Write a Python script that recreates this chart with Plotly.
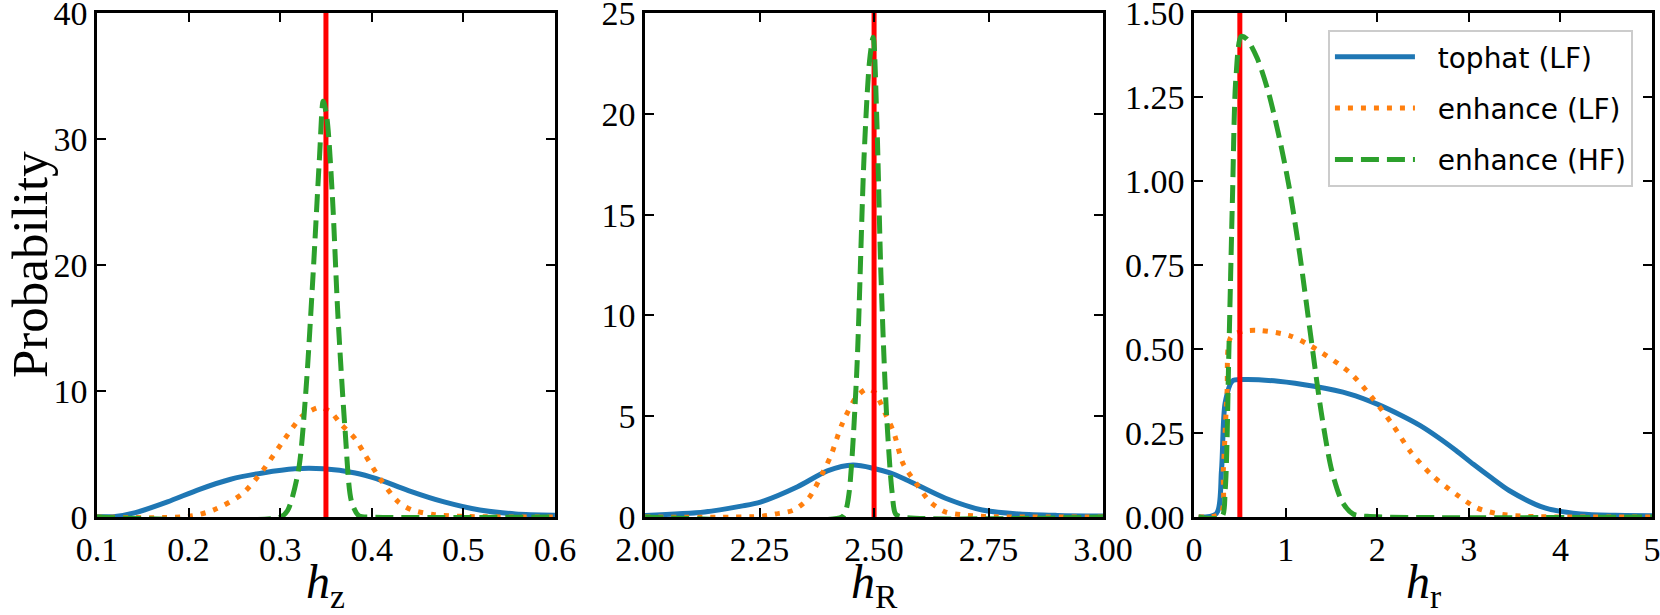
import plotly.graph_objects as go

# ---- h_z panel ----
hz_tophat_x = [0.10, 0.12, 0.142, 0.177, 0.212, 0.246, 0.281, 0.316, 0.347, 0.382, 0.405, 0.44, 0.479, 0.518, 0.557, 0.60]
hz_tophat_y = [0.02, 0.05, 0.35, 1.2, 2.2, 3.0, 3.5, 3.83, 3.83, 3.5, 3.05, 2.1, 1.2, 0.56, 0.25, 0.15]
hz_enhlf_x = [0.10, 0.20, 0.227, 0.258, 0.281, 0.305, 0.324, 0.343, 0.355, 0.366, 0.382, 0.393, 0.409, 0.429, 0.444, 0.467, 0.50, 0.60]
hz_enhlf_y = [0.0, 0.05, 0.55, 1.8, 3.7, 6.2, 8.0, 8.7, 8.35, 7.4, 6.2, 4.9, 3.05, 1.2, 0.56, 0.2, 0.05, 0.0]
hz_enhhf_x = [0.10, 0.30, 0.308, 0.32, 0.328, 0.336, 0.343, 0.347, 0.351, 0.357, 0.363, 0.371, 0.378, 0.386, 0.40, 0.60]
hz_enhhf_y = [0.0, 0.0, 0.5, 3.7, 9.9, 19.3, 28.6, 33.0, 31.7, 25.5, 16.1, 6.8, 1.2, 0.1, 0.0, 0.0]

# ---- h_R panel ----
hR_tophat_x = [2.00, 2.13, 2.21, 2.252, 2.333, 2.398, 2.454, 2.535, 2.575, 2.656, 2.736, 2.817, 2.90, 3.00]
hR_tophat_y = [0.08, 0.25, 0.54, 0.74, 1.5, 2.29, 2.58, 2.19, 1.8, 0.93, 0.35, 0.15, 0.08, 0.05]
hR_enhlf_x = [2.00, 2.25, 2.285, 2.325, 2.357, 2.39, 2.406, 2.43, 2.462, 2.486, 2.502, 2.527, 2.543, 2.563, 2.591, 2.623, 2.656, 2.696, 2.75, 3.00]
hR_enhlf_y = [0.0, 0.03, 0.15, 0.35, 0.93, 2.29, 3.06, 4.6, 5.97, 6.36, 6.16, 5.0, 4.2, 2.67, 1.7, 0.74, 0.25, 0.1, 0.02, 0.0]
hR_enhhf_x = [2.00, 2.43, 2.438, 2.446, 2.462, 2.478, 2.49, 2.498, 2.506, 2.515, 2.527, 2.539, 2.547, 2.56, 3.00]
hR_enhhf_y = [0.0, 0.0, 0.3, 1.3, 7.1, 17.8, 22.6, 23.8, 19.7, 12.0, 5.2, 1.3, 0.15, 0.0, 0.0]

# ---- h_r panel ----
hr_tophat_x = [0.05, 0.244, 0.30, 0.34, 0.42, 0.535, 0.92, 1.31, 1.70, 2.0, 2.28, 2.47, 2.67, 2.86, 3.05, 3.25, 3.44, 3.83, 4.22, 4.6, 5.0]
hr_tophat_y = [0.0, 0.01, 0.14, 0.34, 0.405, 0.409, 0.404, 0.389, 0.366, 0.336, 0.30, 0.272, 0.236, 0.198, 0.157, 0.116, 0.079, 0.027, 0.009, 0.005, 0.004]
hr_enhlf_x = [0.05, 0.29, 0.32, 0.36, 0.40, 0.535, 0.73, 1.04, 1.27, 1.70, 1.93, 2.16, 2.36, 2.59, 2.86, 3.09, 3.33, 3.64, 5.0]
hr_enhlf_y = [0.0, 0.01, 0.14, 0.37, 0.535, 0.553, 0.555, 0.54, 0.51, 0.43, 0.36, 0.278, 0.196, 0.126, 0.068, 0.027, 0.009, 0.002, 0.0]
hr_enhhf_x = [0.05, 0.30, 0.34, 0.38, 0.42, 0.457, 0.515, 0.574, 0.69, 0.806, 0.922, 1.04, 1.155, 1.27, 1.388, 1.504, 1.62, 1.736, 1.89, 5.0]
hr_enhhf_y = [0.0, 0.0, 0.08, 0.49, 0.955, 1.306, 1.43, 1.423, 1.365, 1.27, 1.14, 0.98, 0.78, 0.547, 0.313, 0.138, 0.044, 0.009, 0.002, 0.0]

true_values = [0.35, 2.5, 0.5]

# axis ticks
hz_xticks = [0.1, 0.2, 0.3, 0.4, 0.5, 0.6]
hz_yticks = [0, 10, 20, 30, 40]
hR_xticks = [2.0, 2.25, 2.5, 2.75, 3.0]
hR_yticks = [0, 5, 10, 15, 20, 25]
hr_xticks = [0, 1, 2, 3, 4, 5]
hr_yticks = [0.0, 0.25, 0.5, 0.75, 1.0, 1.25, 1.5]

x_ticks = [hz_xticks, hR_xticks, hr_xticks]
y_ticks = [hz_yticks, hR_yticks, hr_yticks]
x_formats = [".1f", ".2f", "d"]
y_formats = ["d", "d", ".2f"]
x_titles = ["<i>h</i><sub>z</sub>", "<i>h</i><sub>R</sub>", "<i>h</i><sub>r</sub>"]

names = ["tophat (LF)", "enhance (LF)", "enhance (HF)"]
colors = ["#1f77b4", "#ff7f0e", "#2ca02c"]
dashes = ["solid", "5px,8px", "18px,8px"]

panels = [
    [(hz_tophat_x, hz_tophat_y), (hz_enhlf_x, hz_enhlf_y), (hz_enhhf_x, hz_enhhf_y)],
    [(hR_tophat_x, hR_tophat_y), (hR_enhlf_x, hR_enhlf_y), (hR_enhhf_x, hR_enhhf_y)],
    [(hr_tophat_x, hr_tophat_y), (hr_enhlf_x, hr_enhlf_y), (hr_enhhf_x, hr_enhhf_y)],
]

x_domains = [[0.0584, 0.3343], [0.3886, 0.6645], [0.7193, 0.9952]]
y_domain = [0.1593, 0.9789]
serif = "Liberation Serif"

fig = go.Figure()

for p, curves in enumerate(panels):
    xa = "x" if p == 0 else "x%d" % (p + 1)
    ya = "y" if p == 0 else "y%d" % (p + 1)
    for i, (xs, ys) in enumerate(curves):
        if i == 2:
            # truth marker sits under the HF curve
            fig.add_trace(go.Scatter(
                x=[true_values[p], true_values[p]], y=[y_ticks[p][0], y_ticks[p][-1]],
                mode="lines", line=dict(color="red", width=5),
                showlegend=False, xaxis=xa, yaxis=ya, hoverinfo="skip",
            ))
        fig.add_trace(go.Scatter(
            x=xs, y=ys, mode="lines", name="\u00a0\u00a0" + names[i], legendgroup=names[i],
            line=dict(color=colors[i], width=5, dash=dashes[i], shape="spline", smoothing=0.8),
            showlegend=(p == 2), xaxis=xa, yaxis=ya,
        ))

    xkey = "xaxis" if p == 0 else "xaxis%d" % (p + 1)
    ykey = "yaxis" if p == 0 else "yaxis%d" % (p + 1)
    xr = [x_ticks[p][0], x_ticks[p][-1]]
    yr = [y_ticks[p][0], y_ticks[p][-1]]
    common = dict(
        showline=True, linecolor="black", linewidth=2.5, mirror="ticks",
        ticks="inside", ticklen=9, tickwidth=2, tickcolor="black",
        showgrid=False, zeroline=False, automargin=False,
        ticklabeloverflow="allow",
        tickfont=dict(family=serif, size=34, color="black"),
    )
    fig.update_layout({
        xkey: dict(common, domain=x_domains[p], range=xr, anchor=ya,
                   tickmode="array", tickvals=x_ticks[p], tickformat=x_formats[p]),
        ykey: dict(common, domain=y_domain, range=yr, anchor=xa,
                   tickmode="array", tickvals=y_ticks[p], tickformat=y_formats[p]),
    })
    fig.add_annotation(
        text=x_titles[p], xref="paper", yref="paper",
        x=sum(x_domains[p]) / 2, y=0.048, xanchor="center", yanchor="middle",
        showarrow=False, font=dict(family=serif, size=48, color="black"),
    )

# y label as an annotation so it can sit left of the tick labels
fig.add_annotation(
    text="Probability", xref="paper", yref="paper", textangle=-90,
    x=0.0, y=sum(y_domain) / 2, xanchor="left", yanchor="middle",
    showarrow=False, font=dict(family=serif, size=51, color="black"),
)

fig.update_layout(
    width=1660, height=615,
    margin=dict(l=0, r=0, t=0, b=0),
    paper_bgcolor="white", plot_bgcolor="white",
    legend=dict(
        x=0.9837, y=0.9512, xanchor="right", yanchor="top",
        bgcolor="white", bordercolor="#cccccc", borderwidth=2,
        font=dict(family="DejaVu Sans", size=28, color="black"),
        itemwidth=80, tracegroupgap=12,
    ),
)

# the page body has a default margin; drop it so the figure sits at the window corner
fig.write_html("out.html", config={"displayModeBar": False},
               post_script="document.body.style.margin='0';")
